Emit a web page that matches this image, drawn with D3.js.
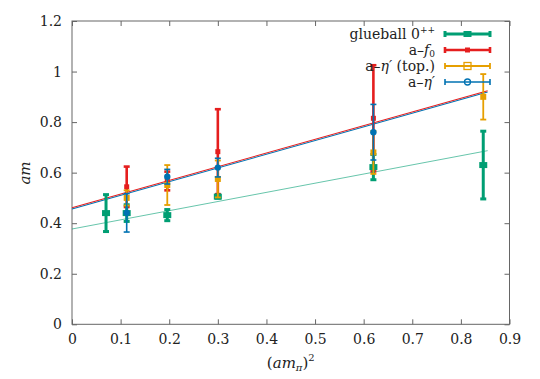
<!DOCTYPE html>
<html><head><meta charset="utf-8">
<script src="https://cdn.jsdelivr.net/npm/d3@7"></script>
<style>
body{margin:0;background:#fff}
svg{display:block}
</style>
</head><body>
<svg id="c" width="540" height="379"></svg>
<script>
// ---- data ----
const xTicks = [0, 0.1, 0.2, 0.3, 0.4, 0.5, 0.6, 0.7, 0.8, 0.9];
const yTicks = [0, 0.2, 0.4, 0.6, 0.8, 1.0, 1.2];

const glueX   = [0.070, 0.1125, 0.196, 0.300, 0.620, 0.846];
const glueY   = [0.440, 0.440, 0.432, 0.505, 0.622, 0.630];
const glueErr = [0.073, 0.033, 0.022, 0.006, 0.050, 0.134];

const f0X   = [0.1125, 0.196, 0.300, 0.620];
const f0Y   = [0.544, 0.567, 0.683, 0.815];
const f0Err = [0.080, 0.037, 0.168, 0.210];

const topX   = [0.1125, 0.196, 0.300, 0.620, 0.846];
const topY   = [0.500, 0.551, 0.575, 0.680, 0.900];
const topErr = [0.030, 0.079, 0.073, 0.085, 0.090];

const etaX   = [0.1125, 0.196, 0.300, 0.620];
const etaY   = [0.441, 0.584, 0.620, 0.760];
const etaErr = [0.076, 0.029, 0.037, 0.110];

const fitF0X  = [0, 0.855], fitF0Y  = [0.461, 0.924];
const fitEtaX = [0, 0.855], fitEtaY = [0.456, 0.919];
const fitGlX  = [0, 0.855], fitGlY  = [0.377, 0.687];

const legendLabels = ["glueball", "a\u2013", "a\u2013", "a\u2013"];

// ---- colours ----
const cGreen = "#009e73", cRed = "#e51e1e", cOrange = "#e69f00", cBlue = "#0072b2";
const FONT = "DejaVu Serif";

const svg = d3.select("#c");
const x = d3.scaleLinear().domain([0, 0.9]).range([72, 509.5]);
const y = d3.scaleLinear().domain([0, 1.2]).range([324.3, 21]);

// axes
const axisCol = "#666";
function styleAxis(g, labels) {
  g.attr("font-family", null).attr("font-size", null);
  g.select(".domain").remove();
  g.selectAll(".tick line").attr("stroke", axisCol);
  g.selectAll(".tick text").style("font-size", "14px").attr("fill", "#222");
  if (!labels) g.selectAll(".tick text").remove();
}
svg.append("g").attr("transform", "translate(0,324.3)")
  .call(d3.axisBottom(x).tickValues(xTicks).tickFormat(d3.format("~g")).tickSizeInner(-5).tickSizeOuter(0).tickPadding(10))
  .call(g => styleAxis(g, true));
svg.append("g").attr("transform", "translate(0,21)")
  .call(d3.axisTop(x).tickValues(xTicks).tickSizeInner(-5).tickSizeOuter(0))
  .call(g => styleAxis(g, false));
svg.append("g").attr("transform", "translate(72,0)")
  .call(d3.axisLeft(y).tickValues(yTicks).tickFormat(d3.format("~g")).tickSizeInner(-5).tickSizeOuter(0).tickPadding(10))
  .call(g => styleAxis(g, true));
svg.append("g").attr("transform", "translate(509.5,0)")
  .call(d3.axisRight(y).tickValues(yTicks).tickSizeInner(-5).tickSizeOuter(0))
  .call(g => styleAxis(g, false));
svg.append("rect").attr("x", x(0)).attr("y", y(1.2))
  .attr("width", x(0.9) - x(0)).attr("height", y(0) - y(1.2))
  .attr("fill", "none").attr("stroke", axisCol).attr("stroke-width", 1);

// axis titles
svg.append("text").attr("x", x(0.45)).attr("y", 368).attr("text-anchor", "middle")
  .style("font-size", "15px")
  .call(t => {
    t.append("tspan").text("(");
    t.append("tspan").style("font-style", "italic").text("am");
    t.append("tspan").style("font-style", "italic").style("font-size", "10px").attr("dy", 3).text("\u03c0");
    t.append("tspan").attr("dy", -3).text(")");
    t.append("tspan").style("font-size", "10px").attr("dy", -7).text("2");
  });
svg.append("text").attr("transform", "translate(30,173) rotate(-90)")
  .attr("text-anchor", "middle").style("font-size", "15px").style("font-style", "italic").text("am");

// fit lines
const line = d3.line().x(d => x(d[0])).y(d => y(d[1]));
svg.append("path").datum(d3.zip(fitGlX, fitGlY)).attr("d", line)
  .attr("stroke", cGreen).attr("stroke-opacity", 0.6).attr("stroke-width", 1).attr("fill", "none");
svg.append("path").datum(d3.zip(fitEtaX, fitEtaY)).attr("d", line)
  .attr("stroke", cBlue).attr("stroke-width", 1.1).attr("fill", "none");
svg.append("path").datum(d3.zip(fitF0X, fitF0Y)).attr("d", line)
  .attr("stroke", cRed).attr("stroke-width", 1.1).attr("fill", "none");

// error-bar series
function series(xs, ys, es, col, lw, cap, marker) {
  const g = svg.append("g");
  xs.forEach((xv, i) => {
    const cx = x(xv), y0 = y(ys[i] - es[i]), y1 = y(ys[i] + es[i]);
    g.append("line").attr("x1", cx).attr("x2", cx).attr("y1", y0).attr("y2", y1)
      .attr("stroke", col).attr("stroke-width", lw);
    [y0, y1].forEach(yy => g.append("line").attr("x1", cx - cap).attr("x2", cx + cap)
      .attr("y1", yy).attr("y2", yy).attr("stroke", col).attr("stroke-width", lw));
    marker(g, cx, y(ys[i]), col);
  });
}
const sq = s => (g, cx, cy, col) => g.append("rect").attr("x", cx - s / 2).attr("y", cy - s / 2)
  .attr("width", s).attr("height", s).attr("fill", col);
const circ = r => (g, cx, cy, col) => g.append("circle").attr("cx", cx).attr("cy", cy).attr("r", r).attr("fill", col);

series(f0X, f0Y, f0Err, cRed, 2.6, 3, sq(5));
series(glueX, glueY, glueErr, cGreen, 3, 3, (g, cx, cy, col) => g.append("rect")
  .attr("x", cx - 4).attr("y", cy - 3).attr("width", 8).attr("height", 6).attr("fill", col));
series(topX, topY, topErr, cOrange, 1.8, 3, sq(6));
series(etaX, etaY, etaErr, cBlue, 1.6, 3, circ(3.2));

// legend
const legRows = [
  {y: 34, col: cGreen, lw: 3},
  {y: 50, col: cRed, lw: 2.6},
  {y: 66, col: cOrange, lw: 1.8},
  {y: 82, col: cBlue, lw: 1.6}
];
const lx0 = 445, lx1 = 490, lxm = 467.5;
legRows.forEach((r, i) => {
  const g = svg.append("g");
  g.append("line").attr("x1", lx0).attr("x2", lx1).attr("y1", r.y).attr("y2", r.y)
    .attr("stroke", r.col).attr("stroke-width", r.lw);
  [lx0, lx1].forEach(xx => g.append("line").attr("x1", xx).attr("x2", xx)
    .attr("y1", r.y - 3).attr("y2", r.y + 3).attr("stroke", r.col).attr("stroke-width", r.lw));
  if (i === 0) g.append("rect").attr("x", lxm - 4).attr("y", r.y - 3).attr("width", 8).attr("height", 6).attr("fill", r.col);
  if (i === 1) g.append("rect").attr("x", lxm - 2.5).attr("y", r.y - 2.5).attr("width", 5).attr("height", 5).attr("fill", r.col);
  if (i === 2) g.append("rect").attr("x", lxm - 3.5).attr("y", r.y - 3.5).attr("width", 7).attr("height", 7)
    .attr("fill", "none").attr("stroke", r.col).attr("stroke-width", 1.3);
  if (i === 3) g.append("circle").attr("cx", lxm).attr("cy", r.y).attr("r", 3)
    .attr("fill", "none").attr("stroke", r.col).attr("stroke-width", 1.3);
  const t = g.append("text").attr("x", 435).attr("y", r.y + 5).attr("text-anchor", "end").style("font-size", "14px");
  t.append("tspan").text(legendLabels[i]);
  if (i === 0) {
    t.append("tspan").text(" 0");
    t.append("tspan").style("font-size", "9px").attr("dy", -6).text("++");
  } else if (i === 1) {
    t.append("tspan").style("font-style", "italic").text("f");
    t.append("tspan").style("font-size", "9px").attr("dy", 1.5).text("0");
  } else if (i === 2) {
    t.append("tspan").style("font-style", "italic").text("\u03b7\u2032");
    t.append("tspan").text(" (top.)");
  } else {
    t.append("tspan").style("font-style", "italic").text("\u03b7\u2032");
  }
});

// serif font everywhere
svg.selectAll("text").style("font-family", FONT).style("fill", "#222");
</script>
</body></html>
